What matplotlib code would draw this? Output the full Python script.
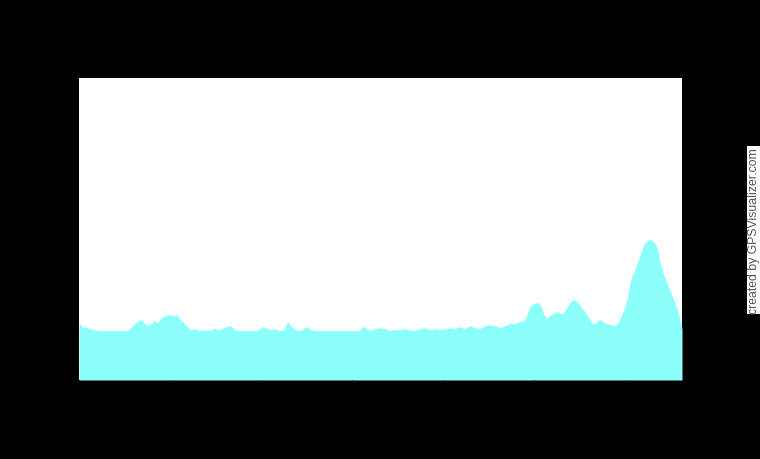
import matplotlib
matplotlib.use("Agg")
import matplotlib.pyplot as plt

# distance along track (km) and elevation (m)
distance_km = [
    0.00, 0.08, 0.19, 0.35, 0.57, 0.85, 1.12, 2.66, 2.88, 3.10,
    3.37, 3.59, 3.76, 3.98, 4.14, 4.31, 4.53, 4.75, 4.97, 5.19,
    5.35, 5.52, 5.74, 5.96, 6.12, 6.34, 6.62, 6.89, 7.17, 7.44,
    7.72, 7.99, 8.27, 8.43, 8.65, 9.80, 10.02, 10.24, 10.46, 10.74,
    11.01, 11.23, 11.45, 11.67, 11.89, 12.11, 12.33, 12.50, 12.72, 12.99,
    15.41, 15.57, 15.79, 16.01, 16.23, 16.51, 16.78, 17.06, 17.33, 17.61,
    17.88, 18.16, 18.43, 18.71, 18.98, 19.25, 19.53, 19.80, 20.08, 20.35,
    20.63, 20.90, 21.18, 21.45, 21.73, 22.00, 22.28, 22.55, 22.83, 23.10,
    23.38, 23.65, 23.93, 24.20, 24.42, 24.59, 24.75, 24.97, 25.19, 25.35,
    25.52, 25.68, 25.85, 26.01, 26.23, 26.40, 26.56, 26.78, 26.95, 27.11,
    27.33, 27.50, 27.72, 27.94, 28.16, 28.32, 28.49, 28.65, 28.82, 28.98,
    29.20, 29.42, 29.64, 29.80, 29.97, 30.13, 30.24, 30.35, 30.52, 30.68,
    30.85, 31.01, 31.18, 31.34, 31.51, 31.67, 31.78, 31.89, 32.06, 32.22,
    32.39, 32.55, 32.72, 32.83, 32.94, 33.05, 33.10,
]
elevation_m = [
    110, 112, 104, 106, 102, 100, 98, 98, 106, 114,
    120, 114, 108, 112, 118, 114, 124, 128, 130, 128,
    130, 122, 114, 106, 100, 102, 98, 100, 98, 102,
    100, 104, 108, 104, 98, 98, 106, 104, 100, 102,
    98, 100, 116, 106, 100, 98, 102, 106, 100, 98,
    98, 108, 102, 98, 102, 104, 102, 98, 100, 100,
    102, 100, 98, 102, 104, 100, 102, 100, 102, 104,
    102, 106, 102, 108, 104, 102, 108, 110, 108, 104,
    108, 112, 112, 116, 118, 130, 146, 152, 154, 148,
    130, 122, 128, 132, 136, 132, 132, 144, 154, 160,
    156, 148, 138, 126, 112, 112, 118, 120, 114, 112,
    110, 108, 116, 130, 146, 166, 192, 206, 220, 236,
    254, 270, 276, 280, 276, 268, 258, 232, 212, 198,
    182, 168, 152, 142, 126, 110, 102,
]

x_ticks_km = [0, 5, 10, 15, 20, 25, 30]

BG = "#000000"
FILL = "#8bfff9"

fig = plt.figure(figsize=(7.6, 4.6), dpi=100, facecolor=BG)
ax = fig.add_axes([79 / 760, (460 - 381) / 460, 603 / 760, 302 / 460])
ax.set_facecolor("white")

ax.fill_between(distance_km, elevation_m, 0, color=FILL, linewidth=0)

ax.set_xlim(0, 33.1)
ax.set_ylim(0, 600)
ax.set_xticks(x_ticks_km)
ax.set_xticklabels([str(t) for t in x_ticks_km], color="black", fontsize=8)
ax.set_yticks([])
ax.tick_params(axis="x", direction="out", length=3, color="black")
for s in ax.spines.values():
    s.set_visible(False)

fig.text(754 / 760, 1 - 231 / 460, "created by GPSVisualizer.com", rotation=90,
         ha="center", va="center", fontsize=8.8, color="#555555",
         family=["Liberation Sans", "DejaVu Sans"],
         bbox=dict(boxstyle="square,pad=0.12", facecolor="white", edgecolor="none"))

fig.savefig("out.png", dpi=100, facecolor=BG)
